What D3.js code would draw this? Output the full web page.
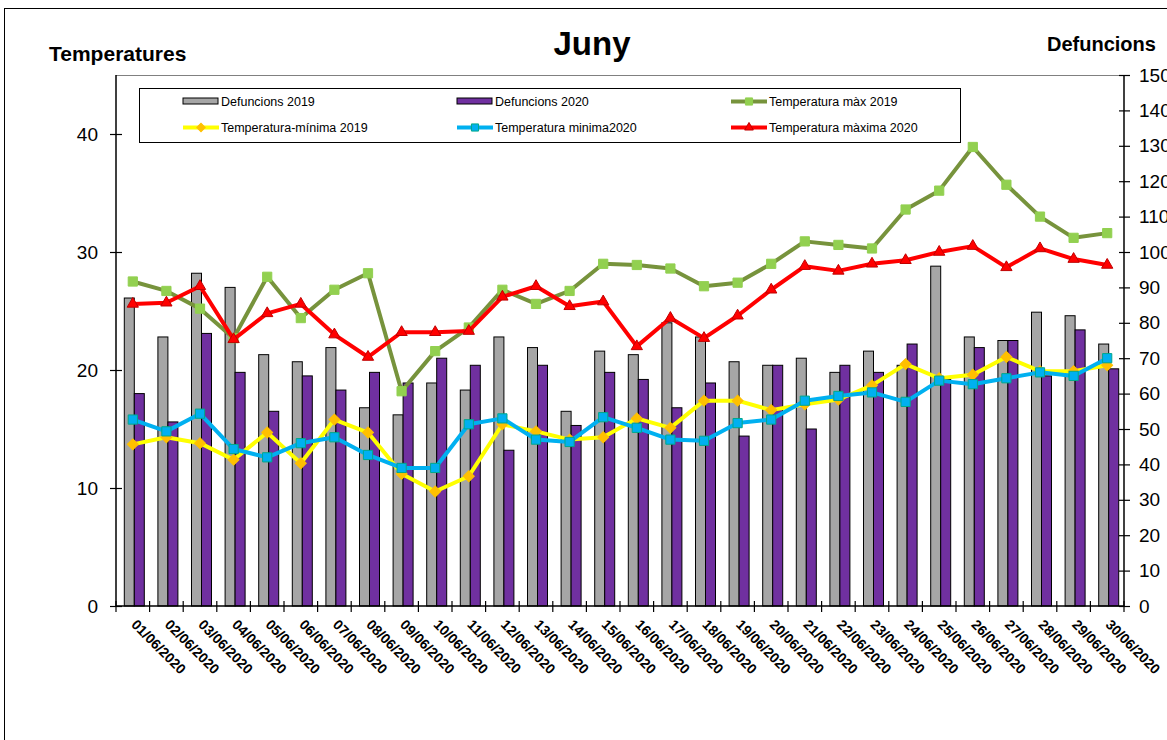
<!DOCTYPE html>
<html>
<head>
<meta charset="utf-8">
<script src="https://cdn.jsdelivr.net/npm/d3@7"></script>
<style>
body { margin: 0; background: #fff; }
text { font-family: Arial, "Liberation Sans", sans-serif; }
</style>
</head>
<body>
<svg id="chart" width="1167" height="740"></svg>
<script>
// dates (x categories)
var dates = ["01/06/2020","02/06/2020","03/06/2020","04/06/2020","05/06/2020","06/06/2020","07/06/2020","08/06/2020","09/06/2020","10/06/2020",
    "11/06/2020","12/06/2020","13/06/2020","14/06/2020","15/06/2020","16/06/2020","17/06/2020","18/06/2020","19/06/2020","20/06/2020",
    "21/06/2020","22/06/2020","23/06/2020","24/06/2020","25/06/2020","26/06/2020","27/06/2020","28/06/2020","29/06/2020","30/06/2020"];

var defuncions2019 = [87,76,94,90,71,69,73,56,54,63, 61,76,73,55,72,71,80,76,69,68, 70,66,72,68,96,76,75,83,82,74];
var defuncions2020 = [60,52,77,66,55,65,61,66,63,70, 68,44,68,51,66,64,56,63,48,68, 50,68,66,74,64,73,75,65,78,67];

var tempMax2019 = [27.5,26.7,25.2,22.7,27.9,24.4,26.8,28.2,18.2,21.6, 23.6,26.8,25.6,26.7,29.0,28.9,28.6,27.1,27.4,29.0, 30.9,30.6,30.3,33.6,35.2,38.9,35.7,33.0,31.2,31.6];
var tempMin2019 = [13.7,14.3,13.8,12.4,14.7,12.1,15.8,14.7,11.2,9.7, 11.0,15.4,14.8,14.1,14.3,15.9,15.1,17.4,17.4,16.6, 17.1,17.5,18.7,20.5,19.3,19.6,21.1,19.9,19.9,20.4];
var tempMin2020 = [15.8,14.8,16.3,13.3,12.6,13.8,14.3,12.8,11.7,11.7, 15.4,15.9,14.1,13.9,16.0,15.1,14.1,14.0,15.5,15.8, 17.4,17.8,18.1,17.3,19.1,18.8,19.3,19.8,19.5,21.0];
var tempMax2020 = [25.6,25.7,27.1,22.6,24.8,25.6,23.0,21.1,23.2,23.2, 23.3,26.2,27.1,25.4,25.8,22.0,24.4,22.7,24.6,26.8, 28.8,28.4,29.0,29.3,30.0,30.5,28.7,30.3,29.4,28.9];

var tempTicks = [0,10,20,30,40];
var defTicks = [0,10,20,30,40,50,60,70,80,90,100,110,120,130,140,150];

var svg = d3.select("#chart");

var pLeft = 116, pRight = 1124, pTop = 75, pBottom = 606;

var x = d3.scaleBand().domain(dates).range([pLeft, pRight]);
var yT = d3.scaleLinear().domain([0, 45]).range([pBottom, pTop]);
var yD = d3.scaleLinear().domain([0, 150]).range([pBottom, pTop]);

function cx(d) { return x(d) + x.bandwidth() / 2; }

// outer frame
svg.append("rect").attr("x", 4.5).attr("y", 8.5).attr("width", 1300).attr("height", 900)
    .attr("fill", "none").attr("stroke", "#000").attr("stroke-width", 1);

// titles
svg.append("text").attr("x", 592).attr("y", 55).attr("text-anchor", "middle")
    .attr("font-size", 33).attr("font-weight", "bold").text("Juny");
svg.append("text").attr("x", 49).attr("y", 61)
    .attr("font-size", 21).attr("font-weight", "bold").text("Temperatures");
svg.append("text").attr("x", 1047).attr("y", 51)
    .attr("font-size", 20).attr("font-weight", "bold").text("Defuncions");

// plot area top border
svg.append("line").attr("x1", pLeft).attr("x2", pRight).attr("y1", pTop + 0.5).attr("y2", pTop + 0.5)
    .attr("stroke", "#808080").attr("stroke-width", 1);

// bars
var barW = 10;
svg.selectAll(".bar19").data(dates).enter().append("rect")
    .attr("x", function(d) { return cx(d) - 8.5; })
    .attr("y", function(d, i) { return yD(defuncions2019[i]); })
    .attr("width", barW)
    .attr("height", function(d, i) { return pBottom - yD(defuncions2019[i]); })
    .attr("fill", "#A6A6A6").attr("stroke", "#000").attr("stroke-width", 1);
svg.selectAll(".bar20").data(dates).enter().append("rect")
    .attr("x", function(d) { return cx(d) + 1.5; })
    .attr("y", function(d, i) { return yD(defuncions2020[i]); })
    .attr("width", barW)
    .attr("height", function(d, i) { return pBottom - yD(defuncions2020[i]); })
    .attr("fill", "#7030A0").attr("stroke", "#000").attr("stroke-width", 1);

// lines
var series = [
    { vals: tempMax2019, color: "#77933C", sym: d3.symbolSquare, size: 85, fill: "#92D050", stroke: "#92D050", rot: 0 },
    { vals: tempMax2020, color: "#FF0000", sym: d3.symbolTriangle, size: 55, fill: "#FF0000", stroke: "#C00000", rot: 0 },
    { vals: tempMin2019, color: "#FFFF00", sym: d3.symbolSquare, size: 60, fill: "#FFC000", stroke: "#FFC000", rot: 45 },
    { vals: tempMin2020, color: "#00B0F0", sym: d3.symbolSquare, size: 85, fill: "#00B0F0", stroke: "#00A88A", rot: 0 }
];

var line = d3.line()
    .x(function(d, i) { return cx(dates[i]); })
    .y(function(d) { return yT(d); });

series.forEach(function(s) {
    svg.append("path").datum(s.vals)
        .attr("d", line)
        .attr("fill", "none")
        .attr("stroke", s.color)
        .attr("stroke-width", 4)
        .attr("stroke-linejoin", "round");
    svg.selectAll(null).data(s.vals).enter().append("path")
        .attr("d", d3.symbol().type(s.sym).size(s.size))
        .attr("transform", function(d, i) {
            return "translate(" + cx(dates[i]) + "," + yT(d) + ") rotate(" + s.rot + ")";
        })
        .attr("fill", s.fill)
        .attr("stroke", s.stroke)
        .attr("stroke-width", 1);
});

// left axis
var axL = svg.append("g").attr("transform", "translate(" + pLeft + ",0)")
    .call(d3.axisLeft(yT).tickValues(tempTicks).tickSize(6).tickPadding(12));
axL.select(".domain").attr("stroke", "#000").attr("stroke-width", 1.5).attr("d", "M0," + pTop + "V" + pBottom);
axL.selectAll(".tick line").attr("x1", -6).attr("x2", 6).attr("stroke-width", 1.2);
axL.selectAll(".tick text").attr("font-size", 19).attr("font-family", "Arial, 'Liberation Sans', sans-serif").attr("fill", "#000");

// right axis (labels run off the right edge, as in the original)
var axR = svg.append("g").attr("transform", "translate(" + pRight + ",0)")
    .call(d3.axisRight(yD).tickValues(defTicks).tickSize(6).tickPadding(9));
axR.select(".domain").attr("stroke", "#000").attr("stroke-width", 1.5).attr("d", "M0," + pTop + "V" + pBottom);
axR.selectAll(".tick line").attr("x1", -5).attr("x2", 6).attr("stroke-width", 1.2);
axR.selectAll(".tick text").attr("font-size", 19).attr("font-family", "Arial, 'Liberation Sans', sans-serif").attr("fill", "#000");

// bottom axis
svg.append("line").attr("x1", pLeft).attr("x2", pRight).attr("y1", pBottom).attr("y2", pBottom)
    .attr("stroke", "#000").attr("stroke-width", 1.5);
var edges = dates.map(function(d) { return x(d); }).concat([pRight]);
svg.selectAll(".xtick").data(edges).enter().append("line")
    .attr("x1", function(d) { return d; }).attr("x2", function(d) { return d; })
    .attr("y1", pBottom - 5).attr("y2", pBottom + 6)
    .attr("stroke", "#000").attr("stroke-width", 1.2);
svg.selectAll(".xlabel").data(dates).enter().append("text")
    .attr("transform", function(d) { return "translate(" + (cx(d) + 5) + "," + (pBottom + 12) + ") rotate(45)"; })
    .attr("dy", "0.75em")
    .attr("font-size", 14).attr("font-weight", "bold")
    .text(function(d) { return d; });

// legend
var lg = svg.append("g");
lg.append("rect").attr("x", 139.5).attr("y", 88.5).attr("width", 821).attr("height", 54)
    .attr("fill", "#fff").attr("stroke", "#000").attr("stroke-width", 1);

var legendItems = [
    { label: "Defuncions 2019", kind: "bar", fill: "#A6A6A6", col: 0, row: 0 },
    { label: "Defuncions 2020", kind: "bar", fill: "#7030A0", col: 1, row: 0 },
    { label: "Temperatura màx 2019", kind: "line", s: series[0], col: 2, row: 0 },
    { label: "Temperatura-mínima 2019", kind: "line", s: series[2], col: 0, row: 1 },
    { label: "Temperatura minima2020", kind: "line", s: series[3], col: 1, row: 1 },
    { label: "Temperatura màxima 2020", kind: "line", s: series[1], col: 2, row: 1 }
];
var colX = [183, 457, 731], rowY = [101.5, 127.5];

legendItems.forEach(function(it) {
    var lx = colX[it.col], ly = rowY[it.row];
    if (it.kind == "bar") {
        lg.append("rect").attr("x", lx).attr("y", ly - 3.5).attr("width", 35).attr("height", 6)
            .attr("fill", it.fill).attr("stroke", "#000").attr("stroke-width", 1);
    } else {
        lg.append("line").attr("x1", lx).attr("x2", lx + 36).attr("y1", ly).attr("y2", ly)
            .attr("stroke", it.s.color).attr("stroke-width", 4);
        lg.append("path").attr("d", d3.symbol().type(it.s.sym).size(it.s.size * 0.6))
            .attr("transform", "translate(" + (lx + 18) + "," + ly + ") rotate(" + it.s.rot + ")")
            .attr("fill", it.s.fill).attr("stroke", it.s.stroke);
    }
    lg.append("text").attr("x", lx + 38).attr("y", ly + 4.5)
        .attr("font-size", 12.5).text(it.label);
});
</script>
</body>
</html>
